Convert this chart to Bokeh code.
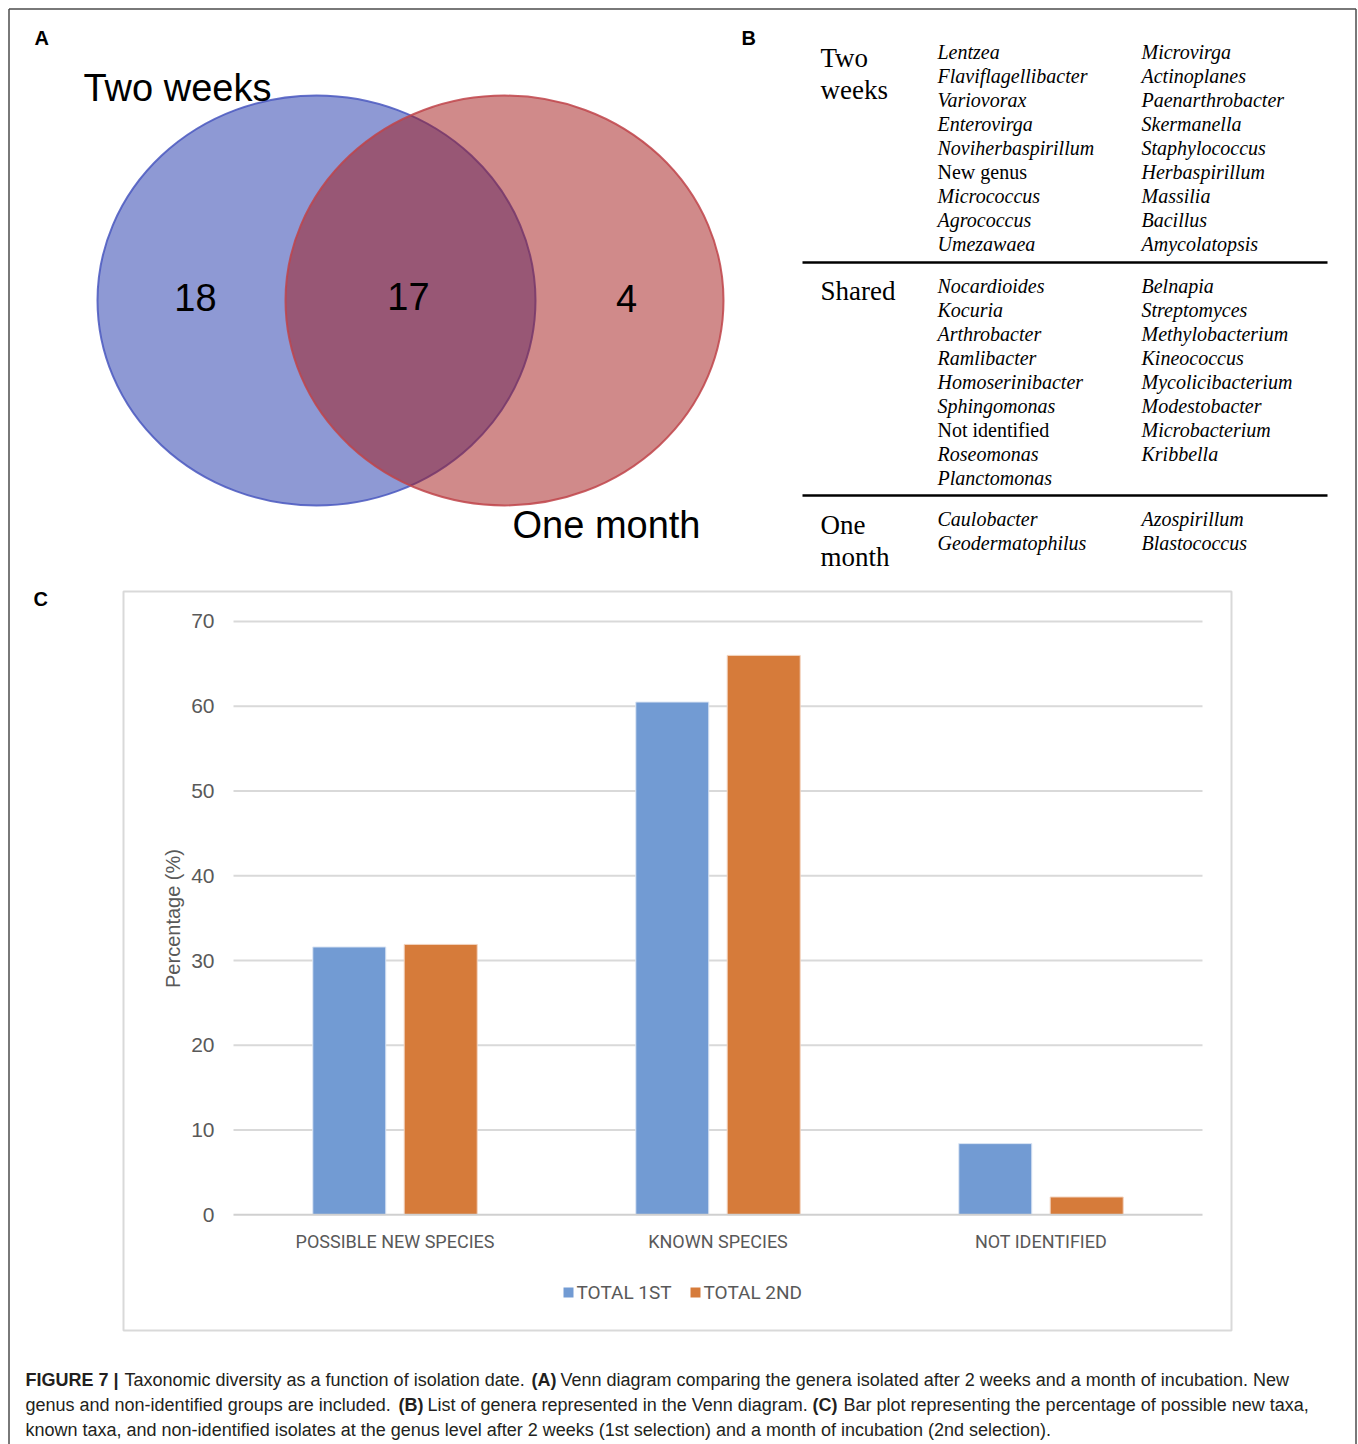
import numpy as np
from bokeh.plotting import figure
from bokeh.models import Range1d, ColumnDataSource
from bokeh.core.properties import value
from bokeh.embed import file_html
from bokeh.resources import INLINE

W, H = 1358, 1444

# ---------------- data ----------------
# Panel A: number of genera per Venn region
venn_sets = ["Two weeks", "One month"]
venn_counts = [18, 17, 4]          # two weeks only, shared, one month only

# Panel B: genera per isolation group (two columns each)
two_weeks_col1 = ["Lentzea", "Flaviflagellibacter", "Variovorax", "Enterovirga",
                  "Noviherbaspirillum", "New genus", "Micrococcus", "Agrococcus", "Umezawaea"]
two_weeks_col2 = ["Microvirga", "Actinoplanes", "Paenarthrobacter", "Skermanella",
                  "Staphylococcus", "Herbaspirillum", "Massilia", "Bacillus", "Amycolatopsis"]
shared_col1 = ["Nocardioides", "Kocuria", "Arthrobacter", "Ramlibacter", "Homoserinibacter",
               "Sphingomonas", "Not identified", "Roseomonas", "Planctomonas"]
shared_col2 = ["Belnapia", "Streptomyces", "Methylobacterium", "Kineococcus",
               "Mycolicibacterium", "Modestobacter", "Microbacterium", "Kribbella"]
one_month_col1 = ["Caulobacter", "Geodermatophilus"]
one_month_col2 = ["Azospirillum", "Blastococcus"]
group_headings = [["Two", "weeks"], ["Shared"], ["One", "month"]]
non_taxon_entries = ["New genus", "Not identified"]

# Panel C: percentage of isolates per class
categories = ["POSSIBLE NEW SPECIES", "KNOWN SPECIES", "NOT IDENTIFIED"]
series_names = ["TOTAL 1ST", "TOTAL 2ND"]
total_1st = [31.6, 60.5, 8.4]
total_2nd = [31.9, 66.0, 2.1]
y_ticks = [0, 10, 20, 30, 40, 50, 60, 70]
y_title = "Percentage (%)"

caption_lines = [
    [("FIGURE 7 |", "bold", 25), ("Taxonomic diversity as a function of isolation date.", "normal", 124),
     ("(A)", "bold", 531),
     ("Venn diagram comparing the genera isolated after 2 weeks and a month of incubation. New", "normal", 560)],
    [("genus and non-identified groups are included.", "normal", 25), ("(B)", "bold", 398),
     ("List of genera represented in the Venn diagram.", "normal", 427), ("(C)", "bold", 812),
     ("Bar plot representing the percentage of possible new taxa,", "normal", 843)],
    [("known taxa, and non-identified isolates at the genus level after 2 weeks (1st selection) "
      "and a month of incubation (2nd selection).", "normal", 25)],
]

# ---------------- page canvas (pixel coordinates, y downwards) ----------------
SANS = value("Liberation Sans")
CHART = value("Roboto")
SERIF = value("Liberation Serif")

# bar chart placement on the page
CAT0, CAT_STEP = 394.5, 323.0     # pixel centre of first category, pixels per category
ZERO_Y, PX_PER_PCT = 1214.3, 8.476

p = figure(width=W, height=H, output_backend="svg", toolbar_location=None,
           x_range=Range1d(0, W), y_range=Range1d(H, 0),
           x_axis_location=None, y_axis_location=None, min_border=0)
p.grid.visible = False
p.outline_line_color = None
p.background_fill_color = "white"
p.border_fill_color = "white"
p.extra_x_ranges = {"cat": Range1d(-CAT0 / CAT_STEP, (W - CAT0) / CAT_STEP)}
p.extra_y_ranges = {"pct": Range1d((ZERO_Y - H) / PX_PER_PCT, ZERO_Y / PX_PER_PCT)}

# outer frame of the figure
p.segment(x0=[8.5, 8.5, 1355.5], y0=[1444, 8.5, 8.5], x1=[8.5, 1355.5, 1355.5], y1=[8.5, 8.5, 1444],
          line_color="#4d4d4d", line_width=1.5)

# panel letters
p.text(x=[34, 741, 33], y=[37, 37, 598], text=["A", "B", "C"], text_font=SANS,
       text_font_style="bold", text_font_size="20px", text_color="black",
       text_baseline="middle")

# ---------------- A: Venn diagram ----------------
p.ellipse(x=316, y=300, width=438, height=410, fill_color="#1d33a9", fill_alpha=0.5,
          line_color="#4a58c0", line_alpha=0.85, line_width=2)
p.ellipse(x=504, y=300, width=438, height=410, fill_color="#a11515", fill_alpha=0.5,
          line_color="#c0444a", line_alpha=0.85, line_width=2)
p.text(x=[83, 512], y=[87, 524], text=venn_sets, text_font=SANS, text_font_size="38px",
       text_color="black", text_baseline="middle", text_align="left")
p.text(x=[195, 408, 626], y=[297, 296, 298], text=[str(c) for c in venn_counts], text_font=SANS,
       text_font_size="38px", text_color="black", text_baseline="middle", text_align="center")

# ---------------- B: genera table ----------------
section_tops = [51, 285, 518]
ROW = 24
columns = [(two_weeks_col1, two_weeks_col2), (shared_col1, shared_col2), (one_month_col1, one_month_col2)]
tx, ty, tt, ts = [], [], [], []
for top, (c1, c2) in zip(section_tops, columns):
    for x0, col in ((937, c1), (1141, c2)):
        for i, name in enumerate(col):
            tx.append(x0)
            ty.append(top + i * ROW)
            tt.append(name)
            ts.append("normal" if name in non_taxon_entries else "italic")
p.text(x="x", y="y", text="t", text_font_style="s",
       source=ColumnDataSource(dict(x=tx, y=ty, t=tt, s=ts)),
       text_font=SERIF, text_font_size="20px", text_color="black", text_baseline="middle")

head_y = [[57, 89], [290], [524, 556]]
hx, hy, ht = [], [], []
for lines, ys in zip(group_headings, head_y):
    for line, yy in zip(lines, ys):
        hx.append(820)
        hy.append(yy)
        ht.append(line)
p.text(x=hx, y=hy, text=ht, text_font=SERIF, text_font_size="27px", text_color="black",
       text_baseline="middle")
p.segment(x0=[802, 802], y0=[262, 495], x1=[1327, 1327], y1=[262, 495],
          line_color="black", line_width=2.5)

# ---------------- C: bar chart ----------------
p.quad(left=123, right=1231, top=591, bottom=1330, fill_color=None,
       line_color="#d9d9d9", line_width=2)

n = len(categories)
xc = np.arange(n, dtype=float)
grid_ticks = [t for t in y_ticks if t > 0]
p.segment(x0=[-0.5] * len(grid_ticks), x1=[n - 0.5] * len(grid_ticks), y0=grid_ticks, y1=grid_ticks,
          x_range_name="cat", y_range_name="pct", line_color="#d9d9d9", line_width=2)

OFF, BW = 0.1415, 0.226
p.vbar(x=xc - OFF, top=total_1st, bottom=0, width=BW, x_range_name="cat", y_range_name="pct",
       fill_color="#729bd3", line_color="#dce6f4", line_width=1)
p.vbar(x=xc + OFF, top=total_2nd, bottom=0, width=BW, x_range_name="cat", y_range_name="pct",
       fill_color="#d67b3a", line_color="#f2d4bf", line_width=1)

# category axis line
p.segment(x0=[-0.5], x1=[n - 0.5], y0=[0], y1=[0], x_range_name="cat", y_range_name="pct",
          line_color="#d0d0d0", line_width=2)

# value axis tick labels
p.text(x=[-0.5] * len(y_ticks), y=y_ticks, text=[str(t) for t in y_ticks], x_offset=-19,
       x_range_name="cat", y_range_name="pct", text_font=SANS, text_font_size="21px",
       text_color="#595959", text_align="right", text_baseline="middle")

# category labels
p.text(x=xc, y=[0] * n, text=categories, y_offset=27, x_range_name="cat", y_range_name="pct",
       text_font=CHART, text_font_size="18px", text_color="#595959", text_align="center",
       text_baseline="middle")

# value axis title
p.text(x=[172], y=[918], text=[y_title], angle=np.pi / 2, text_font=SANS, text_font_size="20px",
       text_color="#595959", text_align="center", text_baseline="middle")

# legend
p.rect(x=[568, 695], y=[1292, 1292], width=10, height=10, fill_color=["#729bd3", "#d67b3a"],
       line_color=None)
p.text(x=[576, 703], y=[1292, 1292], text=series_names, text_font=CHART, text_font_size="19px",
       text_color="#595959", text_baseline="middle")

# ---------------- caption ----------------
cap_y = [1379, 1404, 1429]
for yy, segs in zip(cap_y, caption_lines):
    for txt, style, xx in segs:
        p.text(x=[xx], y=[yy], text=[txt], text_font=SANS, text_font_style=style,
               text_font_size="18px", text_color="#231f20", text_baseline="middle")

open("out.html", "w").write(file_html(p, INLINE))
